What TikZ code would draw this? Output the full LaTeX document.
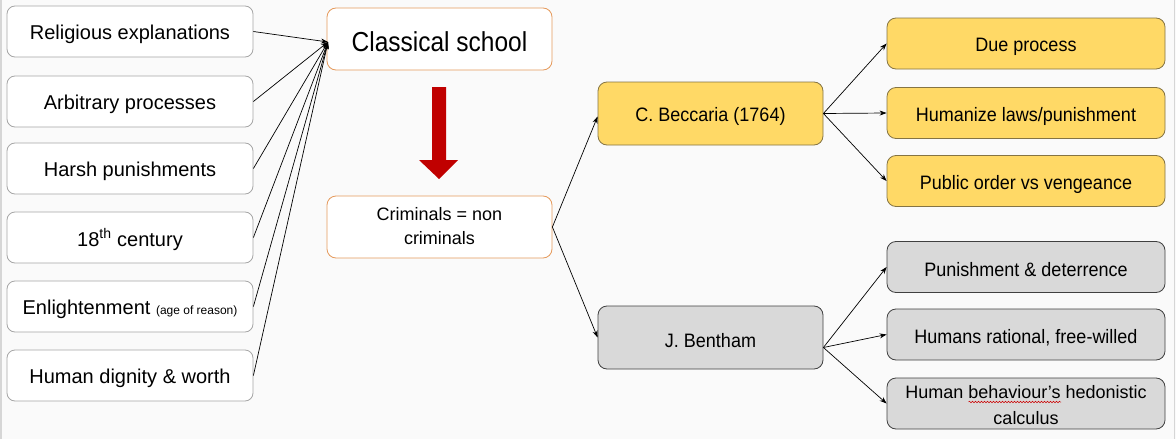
\documentclass[tikz,border=0pt]{standalone}
\usepackage{fontspec}
\setmainfont{Liberation Sans}
\usetikzlibrary{arrows.meta,decorations.pathmorphing,calc}
\definecolor{bgc}{HTML}{FAFAFA}
\definecolor{edgec}{HTML}{D6D6D6}
\definecolor{greyb}{HTML}{A6A6A6}
\definecolor{orangeb}{HTML}{E59A5C}
\definecolor{yellowf}{HTML}{FFD966}
\definecolor{yellowb}{HTML}{857443}
\definecolor{greyf}{HTML}{D9D9D9}
\definecolor{greyd}{HTML}{404040}
\definecolor{darkred}{HTML}{C00000}
\newcommand\tx[3][1]{\raisebox{#2}[\height][\depth]{\scalebox{1}[#1]{#3}}}
\tikzset{
  leftbox/.style={draw=greyb, fill=white, rounded corners=8pt, line width=0.8pt,
    minimum width=246pt, minimum height=51pt, inner sep=0pt, font=\fontsize{20}{22}\selectfont, align=center},
  orangebox/.style={draw=orangeb, fill=white, rounded corners=9pt, line width=0.8pt,
    minimum width=225pt, minimum height=62pt, inner sep=0pt, align=center},
  yellowbox/.style={draw=yellowb, fill=yellowf, rounded corners=9pt, line width=0.8pt,
    inner sep=0pt, align=center, font=\fontsize{18}{21}\selectfont},
  greybox/.style={draw=greyd, fill=greyf, rounded corners=9pt, line width=0.8pt,
    inner sep=0pt, align=center, font=\fontsize{18}{21}\selectfont},
  midsize/.style={minimum width=225pt, minimum height=63pt},
  rightsize/.style={minimum width=278pt, minimum height=51pt},
  conn/.style={line width=0.7pt, -{Stealth[length=7pt,width=5pt]}},
}
\begin{document}
\begin{tikzpicture}[x=1pt,y=-1pt]
\fill[bgc] (0,0) rectangle (1176,439);
\useasboundingbox (0,0) rectangle (1176,439);
\fill[edgec] (0,0) rectangle (2,439);
\fill[edgec] (1173.5,0) rectangle (1175,439);

% left column
\node[leftbox] (rel) at (130,31.5) {\tx{-3pt}{Religious explanations}};
\node[leftbox] (arb) at (130,101.5) {\tx{-3pt}{Arbitrary processes}};
\node[leftbox] (harsh) at (130,168.5) {\tx{-3pt}{Harsh punishments}};
\node[leftbox] (cent) at (130,237.5) {\tx{-2pt}{18\textsuperscript{th} century}};
\node[leftbox] (enl) at (130,306.5) {\tx{-3pt}{Enlightenment {\fontsize{12}{14}\selectfont (age of reason)}}};
\node[leftbox] (dig) at (130,375.5) {\tx{-3pt}{Human dignity \& worth}};

% middle
\node[orangebox, font=\fontsize{24.5}{28}\selectfont] (classical) at (439.5,39) {\tx[1.12]{-2.5pt}{Classical school}};
\node[orangebox, font=\fontsize{18}{24}\selectfont] (crim) at (439.5,227) {\tx{-1pt}{\begin{tabular}{@{}c@{}}Criminals = non\\criminals\end{tabular}}};
\coordinate (cin) at (328,42);

\foreach \n in {rel,arb,harsh,cent,enl,dig}
  \draw[conn] (\n.east) -- (cin);

% red arrow
\fill[darkred] (432,87) -- (446,87) -- (446,160) -- (458,160) -- (439,179) -- (419,160) -- (432,160) -- cycle;

% persons
\node[yellowbox, midsize] (bec) at (710.5,113.5) {\tx[1.08]{-3pt}{C. Beccaria (1764)}};
\node[greybox, midsize] (ben) at (710.5,337.5) {\tx[1.08]{-3pt}{J. Bentham}};

\draw[conn] (crim.east) -- ($(bec.west)+(0,3)$);
\draw[conn] (crim.east) -- (ben.west);

% right column
\node[yellowbox, rightsize] (due) at (1026,43.5) {\tx[1.08]{-3pt}{Due process}};
\node[yellowbox, rightsize] (hum) at (1026,113) {\tx[1.08]{-3pt}{Humanize laws/punishment}};
\node[yellowbox, rightsize] (pub) at (1026,181) {\tx[1.08]{-3pt}{Public order vs vengeance}};
\node[greybox, rightsize] (pun) at (1026,267) {\tx[1.08]{-3pt}{Punishment \& deterrence}};
\node[greybox, rightsize] (rat) at (1026,334.5) {\tx[1.08]{-3pt}{Humans rational, free-willed}};
\node[greybox, rightsize, font=\fontsize{18}{25.5}\selectfont] (beh) at (1026,403.5) {\tx{-3pt}{\begin{tabular}{@{}c@{}}Human behaviour’s hedonistic\\calculus\end{tabular}}};

\foreach \n in {due,hum,pub}
  \draw[conn] (bec.east) -- (\n.west);
\coordinate (bo) at ($(ben.east)+(0,10)$);
\foreach \n in {pun,rat,beh}
  \draw[conn] (bo) -- (\n.west);

% spell-check squiggle
\draw[red!80!black, line width=0.5pt, decorate, decoration={snake, amplitude=0.8pt, segment length=3pt}]
  ($(beh.center)+(-57.5,-1.5)$) -- ($(beh.center)+(35,-1.5)$);
\end{tikzpicture}
\end{document}
